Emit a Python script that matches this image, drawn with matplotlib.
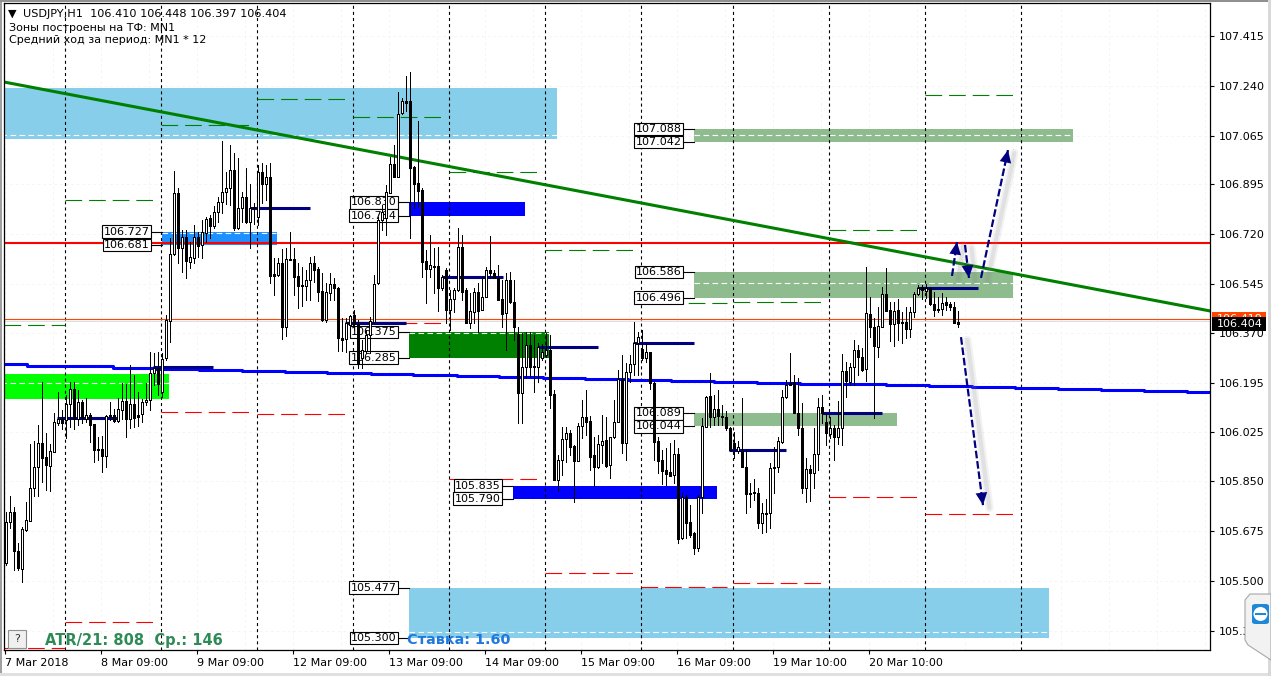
import matplotlib
matplotlib.use('Agg')
import matplotlib.pyplot as plt
from matplotlib.patches import Rectangle, Polygon, Circle, FancyBboxPatch
from matplotlib.transforms import blended_transform_factory

plt.rcParams['font.family'] = ['DejaVu Sans']
plt.rcParams['lines.scale_dashes'] = False

W, H = 1271, 676

# hourly candles
opens = [105.563,105.708,105.743,105.605,105.542,105.680,105.711,105.827,105.900,105.985,
105.936,105.904,105.954,106.055,106.069,106.066,106.122,106.174,106.069,106.129,
106.069,106.083,106.052,105.964,105.964,105.939,106.083,106.083,106.062,106.101,
106.133,106.069,106.122,106.083,106.087,106.129,106.136,106.231,106.249,106.164,
106.284,106.414,106.649,106.863,106.670,106.709,106.621,106.635,106.709,106.681,
106.723,106.775,106.747,106.796,106.832,106.867,106.881,106.944,106.740,106.811,
106.849,106.761,106.814,106.779,106.937,106.895,106.919,106.579,106.575,106.617,
106.393,106.628,106.631,106.572,106.540,106.537,106.558,106.617,106.596,106.519,
106.417,106.512,106.544,106.530,106.354,106.350,106.400,106.435,106.403,106.284,
106.308,106.365,106.410,106.547,106.768,106.775,106.863,106.965,106.919,107.144,
107.186,107.186,106.955,106.898,106.874,106.624,106.596,106.607,106.607,106.530,
106.593,106.452,106.491,106.522,106.674,106.522,106.407,106.445,106.515,106.452,
106.498,106.593,106.582,106.565,106.491,106.442,106.558,106.480,106.368,106.161,
106.252,106.329,106.256,106.252,106.284,106.294,106.312,106.157,105.855,105.925,
105.999,106.020,105.975,105.922,106.045,106.076,106.062,105.943,105.900,105.978,
105.996,105.908,106.006,106.059,106.210,105.985,106.235,106.263,106.336,106.315,
106.284,106.305,106.196,105.992,105.925,105.890,105.883,105.873,105.947,105.652,
105.796,105.708,105.669,105.616,105.796,106.041,106.150,106.076,106.105,106.080,
106.076,106.038,105.985,105.957,105.957,105.900,105.810,105.813,105.810,105.704,
105.736,105.739,105.900,105.900,105.989,106.147,106.196,106.199,106.090,106.038,
105.827,105.894,105.880,105.947,106.112,106.059,106.017,106.038,106.006,106.038,
106.238,106.199,106.252,106.312,106.287,106.245,106.438,106.393,106.322,106.393,
106.508,106.452,106.403,106.452,106.410,106.410,106.386,106.445,106.508,106.533,
106.519,106.530,106.473,106.456,106.456,106.480,106.473,106.463,106.410]

highs = [105.743,105.799,105.760,105.634,105.690,105.778,105.982,105.992,106.048,106.199,
106.020,105.982,106.090,106.164,106.101,106.154,106.199,106.199,106.171,106.136,
106.143,106.090,106.052,106.006,106.010,106.083,106.129,106.105,106.143,106.196,
106.192,106.259,106.224,106.164,106.140,106.196,106.305,106.301,106.305,106.301,
106.435,106.705,106.940,106.881,106.733,106.733,106.691,106.751,106.726,106.768,
106.779,106.786,106.818,106.849,107.046,106.937,107.032,107.004,106.986,106.867,
106.951,106.895,106.828,106.962,106.969,106.962,106.969,106.635,106.635,106.666,
106.670,106.726,106.670,106.617,106.603,106.593,106.638,106.642,106.603,106.582,
106.547,106.582,106.565,106.533,106.424,106.424,106.435,106.452,106.417,106.347,
106.382,106.428,106.575,106.779,106.821,106.891,106.990,107.032,107.218,107.197,
107.274,107.288,106.958,107.116,106.881,106.663,106.716,106.670,106.674,106.575,
106.600,106.522,106.530,106.740,106.716,106.530,106.512,106.530,106.547,106.568,
106.603,106.712,106.593,106.610,106.558,106.582,106.586,106.558,106.393,106.372,
106.375,106.375,106.365,106.336,106.333,106.372,106.365,106.171,105.943,106.041,
106.041,106.031,105.978,106.055,106.136,106.171,106.080,106.006,106.013,106.083,
106.076,106.006,106.136,106.242,106.294,106.266,106.294,106.410,106.375,106.382,
106.340,106.305,106.199,106.006,105.961,105.968,105.985,105.996,105.968,105.810,
105.803,105.767,105.673,105.803,106.073,106.150,106.231,106.154,106.171,106.119,
106.098,106.041,106.024,105.992,106.143,105.961,105.845,105.859,105.827,105.774,
105.788,105.915,105.971,106.006,106.171,106.206,106.301,106.224,106.213,106.126,
105.932,105.908,106.038,106.143,106.154,106.090,106.076,106.048,106.133,106.298,
106.270,106.266,106.347,106.329,106.319,106.603,106.498,106.424,106.463,106.533,
106.600,106.480,106.480,106.491,106.445,106.463,106.463,106.515,106.540,106.540,
106.544,106.533,106.515,106.498,106.512,106.498,106.480,106.480,106.448]

lows = [105.556,105.687,105.539,105.539,105.497,105.676,105.711,105.799,105.799,105.848,
105.820,105.817,105.954,106.048,106.034,106.003,106.041,106.034,106.048,106.055,
106.059,105.989,105.918,105.925,105.883,105.900,106.066,106.059,106.059,106.069,
106.006,106.038,106.041,106.045,106.059,106.119,106.101,106.189,106.154,106.147,
106.277,106.340,106.645,106.617,106.586,106.565,106.600,106.617,106.638,106.635,
106.691,106.705,106.740,106.761,106.793,106.825,106.821,106.733,106.737,106.761,
106.758,106.670,106.754,106.751,106.828,106.839,106.547,106.505,106.572,106.350,
106.361,106.628,106.505,106.459,106.466,106.487,106.487,106.551,106.484,106.414,
106.410,106.487,106.487,106.308,106.308,106.305,106.400,106.382,106.249,106.249,
106.301,106.301,106.407,106.544,106.733,106.716,106.863,106.919,106.919,107.141,
107.151,106.705,106.811,106.814,106.568,106.477,106.568,106.512,106.449,106.522,
106.407,106.382,106.445,106.519,106.487,106.407,106.389,106.407,106.375,106.452,
106.498,106.565,106.565,106.487,106.393,106.312,106.477,106.347,106.055,106.055,
106.213,106.217,106.164,106.199,106.277,106.287,106.108,105.855,105.817,105.873,
105.918,105.943,105.778,105.922,106.003,106.013,105.890,105.834,105.897,105.915,
105.900,105.862,106.003,106.059,105.950,105.925,106.199,106.224,106.224,106.277,
106.270,106.174,105.925,105.880,105.841,105.838,105.869,105.845,105.634,105.648,
105.651,105.655,105.595,105.606,105.739,106.041,106.041,106.048,106.048,106.048,
106.031,105.961,105.932,105.950,105.900,105.739,105.760,105.785,105.687,105.669,
105.673,105.687,105.810,105.883,105.985,106.143,106.189,106.090,106.013,105.810,
105.778,105.781,105.827,105.890,106.055,105.978,106.003,105.925,105.982,105.978,
106.147,106.189,106.189,106.224,106.238,106.203,106.357,106.073,106.287,106.393,
106.449,106.343,106.326,106.347,106.336,106.354,106.357,106.428,106.505,106.491,
106.494,106.470,106.431,106.445,106.435,106.452,106.452,106.407,106.394]

closes = [105.708,105.743,105.605,105.546,105.683,105.715,105.827,105.900,105.985,105.932,
105.908,105.957,106.059,106.069,106.055,106.122,106.174,106.069,106.129,106.073,
106.083,106.048,105.961,105.961,105.939,106.080,106.080,106.062,106.105,106.133,
106.069,106.122,106.073,106.076,106.129,106.136,106.231,106.249,106.192,106.280,
106.417,106.649,106.863,106.670,106.709,106.624,106.638,106.709,106.677,106.726,
106.772,106.747,106.796,106.832,106.867,106.881,106.944,106.740,106.811,106.849,
106.761,106.811,106.811,106.937,106.895,106.919,106.572,106.572,106.617,106.393,
106.631,106.631,106.568,106.537,106.537,106.558,106.617,106.593,106.515,106.417,
106.515,106.544,106.530,106.354,106.347,106.407,106.431,106.403,106.263,106.312,
106.365,106.414,106.544,106.768,106.796,106.867,106.965,106.919,107.141,107.186,
107.179,106.951,106.895,106.870,106.621,106.596,106.610,106.603,106.530,106.568,
106.452,106.491,106.522,106.674,106.515,106.407,106.449,106.515,106.449,106.498,
106.593,106.582,106.565,106.487,106.438,106.558,106.480,106.393,106.161,106.252,
106.329,106.252,106.252,106.322,106.305,106.312,106.154,105.855,105.925,105.999,
106.020,105.971,105.922,106.045,106.076,106.059,105.936,105.900,105.982,105.992,
105.904,106.006,106.059,106.210,105.985,106.235,106.263,106.336,106.357,106.284,
106.305,106.196,105.989,105.922,105.887,105.876,105.869,105.947,105.648,105.796,
105.704,105.662,105.616,105.796,106.045,106.147,106.076,106.105,106.080,106.076,
106.038,105.961,105.968,105.971,105.900,105.806,105.806,105.810,105.704,105.739,
105.739,105.897,105.897,105.992,106.147,106.189,106.189,106.090,106.038,105.827,
105.894,105.880,105.947,106.112,106.090,106.020,106.038,106.006,106.038,106.238,
106.203,106.252,106.312,106.287,106.242,106.442,106.393,106.326,106.396,106.508,
106.449,106.403,106.449,106.407,106.407,106.386,106.445,106.508,106.530,106.522,
106.530,106.473,106.452,106.452,106.477,106.470,106.463,106.407,106.404]

# axis labels
price_ticks = [107.415,107.240,107.065,106.895,106.720,106.545,106.370,106.195,106.025,105.850,105.675,105.500,105.325]
date_ticks = [0,24,48,72,96,120,144,168,192,216]
date_labels = ['7 Mar 2018','8 Mar 09:00','9 Mar 09:00','12 Mar 09:00','13 Mar 09:00','14 Mar 09:00',
               '15 Mar 09:00','16 Mar 09:00','19 Mar 10:00','20 Mar 10:00']
day_lines = [15,39,63,87,111,135,159,182,206,230,254]

# supply / demand zones
zone_left = [-1,101,172.25,172.25,172.25,101,127,39.25,101,-1]
zone_right = [138,261,267,252,223,130,178,68,136,41]
zone_top = [107.232,105.477,107.088,106.586,106.089,106.830,105.835,106.727,106.375,106.228]
zone_bot = [107.053,105.300,107.042,106.496,106.044,106.784,105.790,106.681,106.285,106.140]
zone_mid = [107.066,105.321,107.066,106.547,None,None,None,106.722,106.372,106.196]
zone_color = ['#87CEEB','#87CEEB','#8FBC8F','#8FBC8F','#8FBC8F','#0000FF','#0000FF','#1E90FF','#008000','#00FF00']
zone_tagged = [False,True,True,True,True,True,True,True,True,False]

# daily range segments
seg_start = [-0.25,15,39,63,87,111,135,159,182,206,230]
seg_end = [15,37.5,61.75,85.75,109.5,133.5,157.75,180.5,204.5,228.5,252.5]
seg_green = [106.400,106.839,107.102,107.193,107.130,106.937,106.663,106.477,106.480,106.733,107.207]
seg_red = [105.265,105.357,106.094,106.087,106.407,105.859,105.529,105.479,105.493,105.796,105.736]

# short navy levels
navy_start = [13,37,61.25,85,109.25,133.25,157,181,204.25,228]
navy_end = [28,52,76.25,100.25,124.5,148.25,172.25,195.25,219.25,243.25]
navy_price = [106.073,106.252,106.811,106.407,106.568,106.322,106.336,105.961,106.090,106.529]

# stepped blue average
ma_bars = [-1,5.5,16.25,27,37.75,48.5,59.25,70,80.5,91.5,102,113,123.5,134.5,145,155.75,166.5,177.25,188,
           198.75,209.5,220.25,231,241.75,252.5,263.25,274,284.75,295.5,302]
ma_price = [106.261,106.257,106.254,106.250,106.246,106.243,106.239,106.235,106.232,106.228,106.224,106.220,
            106.217,106.213,106.209,106.206,106.203,106.200,106.197,106.194,106.191,106.188,106.185,106.182,
            106.178,106.175,106.171,106.168,106.164,106.164]

trend_bars = [-0.25,301.25]
trend_price = [107.253,106.449]
red_level = 106.688
ask_level = 106.419
last_price = 106.404

# forecast arrows
arrow_from = [(236.75,106.572),(240,106.681),(244,106.565),(239,106.357)]
arrow_to = [(238,106.691),(241,106.565),(250.75,107.014),(244.5,105.767)]

fig = plt.figure(figsize=(W/100, H/100), dpi=100, facecolor='white')
ax = fig.add_axes([4/W, 26/H, 1206/W, 647/H])
ax.set_xlim(-0.25, 301.25)
ax.set_ylim(105.2582, 107.5305)
ax.set_facecolor('white')
for s in ax.spines.values():
    s.set_linewidth(0.9)

# faint grid
ax.set_xticks(date_ticks)
ax.set_xticklabels(date_labels, ha='left', fontsize=8)
ax.set_xticks(range(0, 301, 12), minor=True)
ax.yaxis.tick_right()
ax.set_yticks(price_ticks)
ax.set_yticklabels(['%.3f' % p for p in price_ticks], fontsize=8)
ax.tick_params(axis='both', which='major', length=3, width=0.8, pad=3)
ax.tick_params(axis='x', which='minor', length=0)
ax.grid(True, which='both', color='#f4f4f4', lw=0.6, ls=(0, (2, 2)))
ax.set_axisbelow(True)

# zones with their inner dashed line and price tags
for i in range(len(zone_top)):
    ax.add_patch(Rectangle((zone_left[i], zone_bot[i]), zone_right[i]-zone_left[i], zone_top[i]-zone_bot[i],
                           fc=zone_color[i], ec='none', zorder=1))
    if zone_mid[i] is not None:
        ax.plot([zone_left[i], zone_right[i]], [zone_mid[i], zone_mid[i]], color='white', lw=0.8,
                ls=(0, (4, 2.5)), zorder=1.5)
    if zone_tagged[i]:
        for p in (zone_top[i], zone_bot[i]):
            ax.plot([zone_left[i]-2.5, zone_left[i]], [p, p], color='black', lw=0.8, zorder=2.2)
            ax.text(zone_left[i]-3.1, p, '%.3f' % p, ha='right', va='center', fontsize=8, zorder=2.4,
                    bbox=dict(boxstyle='square,pad=0.12', fc='white', ec='black', lw=0.8))

# day separators
ax.vlines(day_lines, 105.2582, 107.5305, color='black', lw=0.8, ls=(0, (2.2, 2.2)), zorder=1.8)

# range segments
for i in range(len(seg_start)):
    ax.plot([seg_start[i], seg_end[i]], [seg_green[i], seg_green[i]], color='#008000', lw=0.8,
            ls=(0, (12, 5)), zorder=2)
    ax.plot([seg_start[i], seg_end[i]], [seg_red[i], seg_red[i]], color='#FF0000', lw=0.8,
            ls=(0, (12, 5)), zorder=2)

ax.axhline(ask_level, color='#FF4500', lw=0.8, zorder=2)
ax.axhline(ask_level-0.007, color='#dddddd', lw=0.7, zorder=1.9)
ax.axhline(red_level, color='#FF0000', lw=1.5, zorder=2.1)
ax.step(ma_bars, ma_price, where='post', color='#0000FF', lw=2.2, zorder=2.1)
ax.plot(trend_bars, trend_price, color='#008000', lw=2.2, zorder=2.1)
ax.hlines(navy_price, navy_start, navy_end, color='#000080', lw=2.2, zorder=2.3)

# candles, pushed half a pixel so wicks land on a whole column
bars = [i + 0.125 for i in range(len(opens))]
body_low = [min(o, c) for o, c in zip(opens, closes)]
body_size = [abs(o-c) for o, c in zip(opens, closes)]
body_color = ['white' if c >= o else 'black' for o, c in zip(opens, closes)]
ax.vlines(bars, lows, highs, color='black', lw=0.72, zorder=5, antialiased=False)
ax.bar(bars, body_size, bottom=body_low, width=0.5, color=body_color, edgecolor='black', lw=0.72, zorder=6,
       antialiased=False)

# forecast arrows with a soft shadow
for a, b in zip(arrow_from, arrow_to):
    sx = [a[0]+1.6, b[0]+1.6]
    sy = [a[1]-0.01, b[1]-0.01]
    ax.plot(sx, sy, color='#808080', lw=6, alpha=0.10, zorder=7, solid_capstyle='round')
    ax.plot(sx, sy, color='#808080', lw=3, alpha=0.15, zorder=7, solid_capstyle='round')
    ax.plot([a[0], b[0]], [a[1], b[1]], color='#000080', lw=1.6, ls=(0, (5.5, 2)), zorder=8)
    ax.annotate('', xy=b, xytext=(a[0]+(b[0]-a[0])*0.7, a[1]+(b[1]-a[1])*0.7), zorder=9,
                arrowprops=dict(arrowstyle='-|>,head_length=0.75,head_width=0.35', color='#000080',
                                lw=0, mutation_scale=12, shrinkA=0, shrinkB=0))

# current price tags on the scale
tr = blended_transform_factory(ax.transAxes, ax.transData)
ax.add_patch(Rectangle((1.0017, ask_level-0.014), 0.0448, 0.039, transform=tr, fc='#FF4500', ec='none',
                       clip_on=False, zorder=19))
ax.text(1.0058, ask_level, '%.3f' % ask_level, transform=tr, va='center', ha='left', fontsize=8, color='white',
        clip_on=False, zorder=20)
ax.add_patch(Rectangle((1.0017, last_price-0.026), 0.0448, 0.049, transform=tr, fc='black', ec='none',
                       clip_on=False, zorder=21))
ax.text(1.0058, last_price, '%.3f' % last_price, transform=tr, va='center', ha='left', fontsize=8, color='white',
        clip_on=False, zorder=22)

# header text
fig.text(8/W, 1-14/H, '\u25BC', fontsize=8, va='center', color='black')
fig.text(23/W, 1-14/H, 'USDJPY,H1  106.410 106.448 106.397 106.404', fontsize=8.1, va='center', color='black')
fig.text(9/W, 1-28/H, '\u0417\u043e\u043d\u044b \u043f\u043e\u0441\u0442\u0440\u043e\u0435\u043d\u044b \u043d\u0430 \u0422\u0424: MN1',
         fontsize=8, va='center', color='black')
fig.text(9/W, 1-40/H, '\u0421\u0440\u0435\u0434\u043d\u0438\u0439 \u0445\u043e\u0434 \u0437\u0430 \u043f\u0435\u0440\u0438\u043e\u0434: MN1 * 12',
         fontsize=8, va='center', color='black')

# bottom-left text and help button
fig.patches.append(FancyBboxPatch((8/W, 1-648/H), 18/W, 18/H, boxstyle='square,pad=0', fc='#f0f0f0', ec='#909090',
                                  lw=0.8, transform=fig.transFigure))
fig.text(17/W, 1-639/H, '?', fontsize=8, ha='center', va='center', color='#333333')
fig.text(45/W, 1-640/H, 'ATR/21: 808  \u0421\u0440.: 146', fontsize=10.5, fontweight='bold', va='center', color='#2E8B57')
fig.text(407/W, 1-640/H, '\u0421\u0442\u0430\u0432\u043a\u0430: 1.60', fontsize=10.4, fontweight='bold', va='center', color='#1E78E0')

# window edges
fig.patches.append(Rectangle((0, 0), 2/W, 1, fc='#a0a0a0', ec='none', transform=fig.transFigure))
fig.patches.append(Rectangle((0, 1-1.5/H), 1, 1.5/H, fc='#909090', ec='none', transform=fig.transFigure))
fig.patches.append(Rectangle((0, 0), 1, 3/H, fc='#e0e0e0', ec='none', transform=fig.transFigure))
fig.patches.append(Rectangle((1-3/W, 0), 3/W, 1, fc='#d8d8d8', ec='none', transform=fig.transFigure))

# remote-desktop tab in the corner
tab = [(1245, 600), (1250, 594), (1271, 594), (1271, 660), (1248, 645), (1245, 640)]
fig.patches.append(Polygon([(x/W, 1-y/H) for x, y in tab], closed=True, fc='#f2f2f2', ec='#a8a8a8', lw=0.8,
                           transform=fig.transFigure, zorder=30))
fig.patches.append(FancyBboxPatch((1252/W, 1-624/H), 17/W, 20/H, boxstyle='round,pad=0,rounding_size=0.003',
                                  fc='#1E88D8', ec='none', transform=fig.transFigure, zorder=31))
fig.patches.append(Circle((1260.5, H-614), 7, fc='white', ec='none', zorder=32, transform=None))
fig.patches.append(Polygon([(1255/W, 1-613/H), (1266/W, 1-613/H), (1266/W, 1-615/H), (1255/W, 1-615/H)], closed=True,
                           fc='#1E88D8', ec='none', transform=fig.transFigure, zorder=33))

fig.savefig('out.png', dpi=100)
